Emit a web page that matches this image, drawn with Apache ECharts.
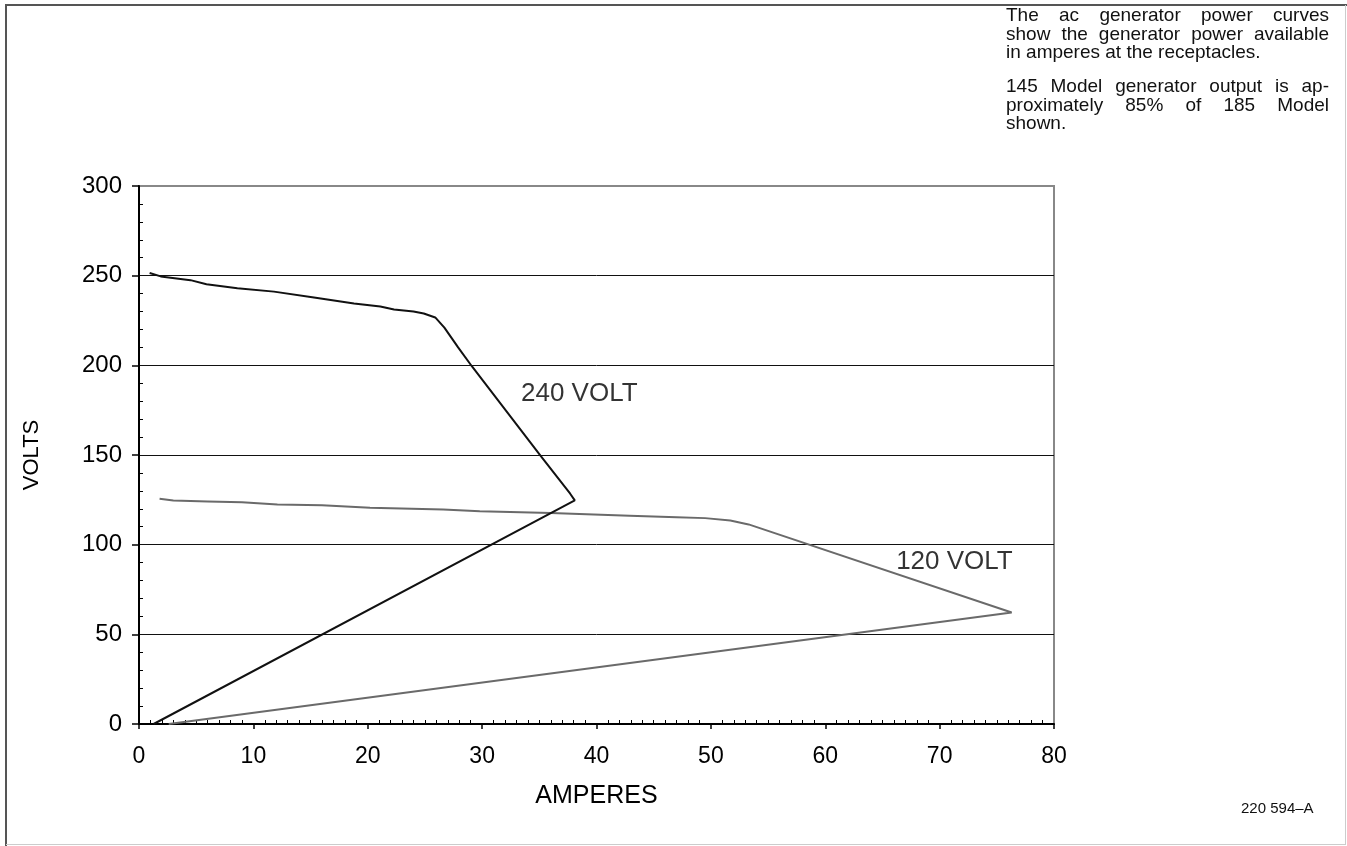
<!DOCTYPE html>
<html><head><meta charset="utf-8">
<script src="https://cdn.jsdelivr.net/npm/echarts@6/dist/echarts.min.js"></script>
<style>html,body{margin:0;padding:0;background:#fff}#c{width:1347px;height:846px}</style>
</head><body><div id="c"></div>
<script>
// ---- data ----
const volt240 = [[0.93,251.5],[1.9,249.6],[4.5,247.5],[5.9,245.2],[8.6,243.0],[11.8,241.1],[15.3,237.8],[18.8,234.5],[21.1,232.8],[22.3,231.1],[24.0,230.0],[24.9,228.9],[25.9,226.7],[26.7,221.0],[27.4,214.6],[27.9,210.0],[29.1,199.5],[35.1,149.7],[37.7,128.4],[38.1,124.7],[1.28,0]];
const volt120 = [[1.8,125.6],[3.0,124.6],[6.0,124.1],[9.0,123.6],[12.1,122.4],[16.0,122.0],[20.2,120.6],[26.6,119.6],[29.8,118.7],[36.0,117.6],[42.9,116.1],[47.0,115.3],[49.5,114.8],[51.7,113.5],[53.3,111.3],[76.3,62.2],[2.6,0]];
const curveLabelNames = ['240 VOLT','120 VOLT'];
const curveLabelPos = [[33.4,184],[66.2,90.2]];
const noteParagraphs = [
  ['The ac generator power curves','show the generator power available','in amperes at the receptacles.'],
  ['145 Model generator output is ap-','proximately 85% of 185 Model','shown.']
];
const figureCode = '220 594\u2013A';
const xName = 'AMPERES', yName = 'VOLTS';

// ---- layout helpers ----
const FONT = '"Liberation Sans", Arial, Helvetica, sans-serif';
const noteFont = '19px ' + FONT;
const measure = document.createElement('canvas').getContext('2d');
measure.font = noteFont;
const noteLeft = 1006, noteRight = 1329;
const noteLineY = [[16,34.5,53],[87,105.5,124]];
const graphics = [];
noteParagraphs.forEach((para, pi) => {
  para.forEach((line, li) => {
    const y = noteLineY[pi][li];
    const last = li === para.length - 1;
    if (last) {
      graphics.push({type:'text', x:noteLeft, y:y, style:{text:line, font:noteFont, fill:'#111', verticalAlign:'middle'}});
    } else {
      const words = line.split(' ');
      const widths = words.map(w => measure.measureText(w).width);
      const total = widths.reduce((a,b)=>a+b,0);
      const gap = (noteRight - noteLeft - total) / (words.length - 1);
      let x = noteLeft;
      words.forEach((w,i) => {
        graphics.push({type:'text', x:x, y:y, style:{text:w, font:noteFont, fill:'#111', verticalAlign:'middle'}});
        x += widths[i] + gap;
      });
    }
  });
});
graphics.push({type:'text', x:1241, y:809, style:{text:figureCode, font:'15px ' + FONT, fill:'#111', verticalAlign:'middle'}});
// page frame
graphics.push({type:'line', shape:{x1:6,y1:5,x2:6,y2:846}, style:{stroke:'#555', lineWidth:2}});
graphics.push({type:'line', shape:{x1:5,y1:5,x2:1347,y2:5}, style:{stroke:'#555', lineWidth:2}});
graphics.push({type:'line', shape:{x1:1345.5,y1:5,x2:1345.5,y2:845}, style:{stroke:'#ccc', lineWidth:1}});
graphics.push({type:'line', shape:{x1:6,y1:844.5,x2:1346,y2:844.5}, style:{stroke:'#ccc', lineWidth:1}});

const chart = echarts.init(document.getElementById('c'), null, {renderer:'canvas'});
chart.setOption({
  animation: false,
  backgroundColor: '#fff',
  grid: {left:139, top:186, width:915, height:538, show:true, borderColor:'#888', borderWidth:2, backgroundColor:'transparent'},
  xAxis: [
    {type:'value', min:0, max:80, interval:10, position:'bottom',
     axisLine:{show:true, onZero:false, lineStyle:{color:'#000', width:2}},
     axisTick:{show:true, inside:false, length:5, lineStyle:{color:'#000', width:1.5}},
     axisLabel:{margin:21, fontFamily:FONT, fontSize:23, color:'#000'},
     splitLine:{show:false},
     name:xName, nameLocation:'middle', nameGap:60, nameTextStyle:{fontFamily:FONT, fontSize:25, color:'#000'}},
    {type:'value', min:0, max:80, interval:10, position:'bottom',
     axisLine:{show:false}, axisTick:{show:false, inside:true}, axisLabel:{show:false},
     minorTick:{show:true, splitNumber:10, length:4, lineStyle:{color:'#000', width:1}},
     splitLine:{show:false}, minorSplitLine:{show:false}}
  ],
  yAxis: [
    {type:'value', min:0, max:300, interval:50, position:'left',
     axisLine:{show:true, onZero:false, lineStyle:{color:'#000', width:2}},
     axisTick:{show:true, inside:false, length:7, lineStyle:{color:'#000', width:1.5}},
     axisLabel:{margin:17, fontFamily:FONT, fontSize:24, color:'#000'},
     splitLine:{show:true, showMinLine:false, showMaxLine:false, lineStyle:{color:'#111', width:1}},
     name:yName, nameLocation:'middle', nameGap:96, nameRotate:90, nameTextStyle:{fontFamily:FONT, fontSize:22, color:'#000'}},
    {type:'value', min:0, max:300, interval:50, position:'left',
     axisLine:{show:false}, axisTick:{show:false, inside:true}, axisLabel:{show:false},
     minorTick:{show:true, splitNumber:5, length:4, lineStyle:{color:'#000', width:1}},
     splitLine:{show:false}, minorSplitLine:{show:false}}
  ],
  series: [
    {type:'line', name:'240 VOLT', data:volt240, xAxisIndex:0, yAxisIndex:0, showSymbol:false, symbol:'none',
     lineStyle:{color:'#111', width:2}, z:5},
    {type:'line', name:'120 VOLT', data:volt120, xAxisIndex:0, yAxisIndex:0, showSymbol:false, symbol:'none',
     lineStyle:{color:'#6a6a6a', width:2}, z:4},
    {type:'scatter', xAxisIndex:0, yAxisIndex:0, symbolSize:0, silent:true,
     data: curveLabelNames.map((n,i)=>({name:n, value:curveLabelPos[i]})),
     label:{show:true, position:'right', distance:0, formatter:'{b}', fontFamily:FONT, fontSize:26, color:'#000'}}
  ],
  graphic: graphics
});
</script>
</body></html>
